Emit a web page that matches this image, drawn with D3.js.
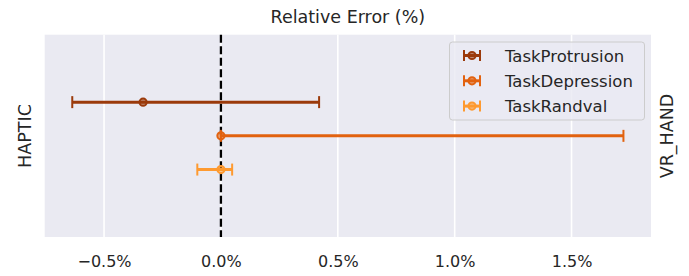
<!DOCTYPE html>
<html><head><meta charset="utf-8">
<script src="https://cdn.jsdelivr.net/npm/d3@7"></script>
<style>body{margin:0;background:#fff}svg{display:block}text{font-family:"DejaVu Sans",sans-serif;fill:#262626}</style>
</head><body><svg id="c" width="689" height="276"></svg>
<script>
const series = ["TaskProtrusion","TaskDepression","TaskRandval"];
const means = [-0.333, 0.0, 0.0];
const lows = [-0.636, 0.0, -0.101];
const highs = [0.420, 1.722, 0.048];
const colors = ["#9b3a0b","#e2620f","#fe9a30"];
const xTicks = [-0.5, 0.0, 0.5, 1.0, 1.5];
const title = "Relative Error (%)";
const leftLabel = "HAPTIC", rightLabel = "VR_HAND";

const svg = d3.select("#c");
const m = {l:44.7, r:651, t:34.7, b:237};
const lo = d3.min(lows), hi = d3.max(highs), pad = (hi-lo)*0.05;
const x = d3.scaleLinear().domain([lo-pad, hi+pad]).range([m.l, m.r]);
const y = d3.scaleBand().domain(series).range([m.t, m.b]).paddingOuter(1.5);

svg.append("rect").attr("x",m.l).attr("y",m.t).attr("width",m.r-m.l).attr("height",m.b-m.t).attr("fill","#eaeaf2");
svg.append("g").selectAll("line").data(xTicks).join("line")
  .attr("x1",d=>x(d)).attr("x2",d=>x(d)).attr("y1",m.t).attr("y2",m.b)
  .attr("stroke","#fff").attr("stroke-width",1.6);

const fmt = d => (d<0?"\u2212":"") + Math.abs(d).toFixed(1) + "%";
const ax = svg.append("g").attr("transform",`translate(0,${m.b})`)
  .call(d3.axisBottom(x).tickValues(xTicks).tickFormat(fmt).tickSize(0).tickPadding(19));
ax.select(".domain").remove();
ax.selectAll("text").attr("font-size",16).attr("fill","#262626").attr("font-family","DejaVu Sans");

svg.append("line").attr("x1",x(0)).attr("x2",x(0)).attr("y1",m.t).attr("y2",m.b)
  .attr("stroke","#000").attr("stroke-width",2.3).attr("stroke-dasharray","8,3.5");

const cy = d => y(d)+y.bandwidth()/2;
const g = svg.append("g");
series.forEach((s,i)=>{
  const yy = cy(s);
  g.append("line").attr("x1",x(lows[i])).attr("x2",x(highs[i])).attr("y1",yy).attr("y2",yy).attr("stroke",colors[i]).attr("stroke-width",3);
  [lows[i],highs[i]].forEach(v=>g.append("line").attr("x1",x(v)).attr("x2",x(v)).attr("y1",yy-6).attr("y2",yy+6).attr("stroke",colors[i]).attr("stroke-width",2));
  g.append("circle").attr("cx",x(means[i])).attr("cy",yy).attr("r",3.6).attr("fill",colors[i]).attr("fill-opacity",0.55).attr("stroke",colors[i]).attr("stroke-width",2);
});

svg.append("text").attr("x",(m.l+m.r)/2).attr("y",23).attr("text-anchor","middle").attr("font-size",17.5).text(title);
svg.append("text").attr("transform",`translate(31,136) rotate(-90)`).attr("text-anchor","middle").attr("font-size",17.5).text(leftLabel);
svg.append("text").attr("transform",`translate(673,136) rotate(-90)`).attr("text-anchor","middle").attr("font-size",17.5).text(rightLabel);

const lg = svg.append("g");
lg.append("rect").attr("x",449.5).attr("y",42).attr("width",195).attr("height",78).attr("rx",3)
  .attr("fill","#eaeaf2").attr("fill-opacity",0.8).attr("stroke","#cccccc").attr("stroke-width",1);
series.forEach((s,i)=>{
  const yy = 55.5 + i*25.3, x0=464, x1=480;
  lg.append("line").attr("x1",x0).attr("x2",x1).attr("y1",yy).attr("y2",yy).attr("stroke",colors[i]).attr("stroke-width",3);
  [x0,x1].forEach(v=>lg.append("line").attr("x1",v).attr("x2",v).attr("y1",yy-5.5).attr("y2",yy+5.5).attr("stroke",colors[i]).attr("stroke-width",2));
  lg.append("circle").attr("cx",(x0+x1)/2).attr("cy",yy).attr("r",3.6).attr("fill",colors[i]).attr("fill-opacity",0.55).attr("stroke",colors[i]).attr("stroke-width",2);
  lg.append("text").attr("x",505).attr("y",yy+6).attr("font-size",16.5).text(s);
});
</script></body></html>
